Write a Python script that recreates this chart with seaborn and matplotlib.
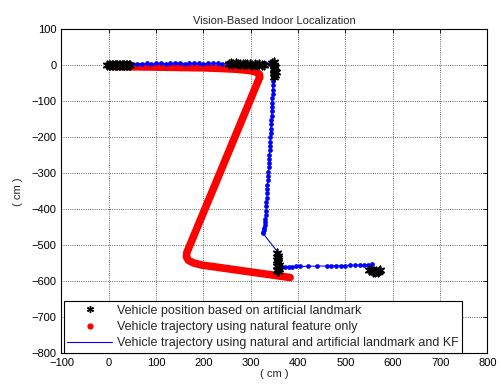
import matplotlib
matplotlib.use("Agg")
import matplotlib.pyplot as plt
import seaborn as sns
from matplotlib.lines import Line2D

# Landmark-based vehicle positions (cm)
landmark_x = [-3, 0, 3, 6, 9, 12, 15, 18, 21, 24, 27, 30, 33, 36, 39, 42, 45,
              253, 258, 263, 268, 273, 278, 283, 288, 293, 298, 303, 308, 313, 318, 323, 328,
              345, 348, 350, 352, 348, 350, 353, 349, 351, 350,
              355, 357, 358, 356, 357, 359, 355, 358, 360, 356, 358,
              550, 555, 560, 565, 570, 573, 558, 563, 568]
landmark_y = [0, 1, 0, 1, 0, 1, 0, 1, 0, 1, 0, 1, 0, 1, 0, 1, 0,
              4, 5, 4, 5, 4, 4, 3, 4, 3, 3, 2, 3, 2, 3, 2, 2,
              6, 8, 2, -4, -10, -14, -18, -22, -26, -32,
              -522, -530, -536, -542, -548, -554, -558, -562, -566, -569, -572,
              -569, -570, -572, -571, -572, -570, -575, -576, -574]

# Trajectory from natural features only (cm)
natural_x = [0, 50, 100, 150, 200, 240, 270, 295, 310, 318, 319, 316, 165, 164, 168, 178, 195, 383]
natural_y = [-3, -4, -5, -6, -7, -9, -11, -14, -18, -25, -33, -42, -520, -532, -542, -549, -555, -590]

# Trajectory using natural + artificial landmark and KF (cm)
kf_x = [0, 10, 20, 30, 40, 50, 60, 70, 80, 90, 100, 110, 120, 130, 140, 150, 160, 170, 180, 190,
        200, 210, 220, 230, 240, 250, 260, 270, 280, 290, 300, 310, 320, 330, 340,
        347, 347, 347, 346, 346, 346, 345, 345, 344, 344, 344, 343, 343, 342, 342, 341, 341,
        340, 340, 339, 339, 338, 338, 337, 337, 336, 335, 335, 334, 334, 333, 333, 332, 332,
        331, 330, 329, 328, 327, 326, 325,
        358, 357, 356, 365, 372, 380, 388, 396, 404, 420, 440, 460, 470, 480, 490, 500,
        510, 520, 530, 540, 548, 556, 560]
kf_y = [4, 5, 3, 4, 5, 4, 3, 4, 5, 4, 5, 6, 4, 5, 6, 7, 4, 5, 6, 5,
        4, 5, 6, 5, 4, 5, 4, 5, 4, 5, 4, 5, 4, 5, 4,
        -20, -32, -44, -56, -68, -80, -92, -104, -116, -128, -140, -152, -164, -176, -188, -200, -212,
        -224, -236, -248, -260, -272, -284, -296, -308, -320, -332, -344, -356, -368, -380, -392, -404, -416,
        -426, -436, -445, -452, -458, -463, -466,
        -521, -545, -560, -560, -560, -560, -560, -559, -559, -559, -558, -558, -558, -557, -557, -557,
        -556, -556, -555, -555, -554, -553, -570]

x_ticks = [-100, 0, 100, 200, 300, 400, 500, 600, 700, 800]
y_ticks = [100, 0, -100, -200, -300, -400, -500, -600, -700, -800]

sns.set_style("white")
plt.rcParams['font.family'] = ['Liberation Sans', 'DejaVu Sans']

fig = plt.figure(figsize=(5.02, 3.91), dpi=100)
ax = fig.add_axes([0.1225, 0.097, 0.8485, 0.828])

sns.lineplot(x=natural_x, y=natural_y, sort=False, estimator=None, color='#ff0000',
             lw=5.5, solid_capstyle='round', solid_joinstyle='round', ax=ax, zorder=2)
sns.lineplot(x=kf_x, y=kf_y, sort=False, estimator=None, color='#0000ff', lw=0.8,
             marker='o', markersize=3.4, markeredgewidth=0, ax=ax, zorder=3)
sns.scatterplot(x=landmark_x, y=landmark_y, marker=(6, 2, 0), color='k', s=35,
                linewidth=1.2, ax=ax, zorder=4)

ax.set_xlim(-100, 800)
ax.set_ylim(-800, 100)
ax.set_xticks(x_ticks)
ax.set_yticks(y_ticks)
ax.tick_params(direction='in', top=True, right=True, labelsize=8, length=3, width=0.6, colors='k')
for s in ax.spines.values():
    s.set_color('k')
    s.set_linewidth(0.8)
ax.grid(True, color='#333333', linestyle=':', linewidth=0.6)
ax.set_axisbelow(True)
ax.set_title('Vision-Based Indoor Localization', fontsize=8, pad=4)
ax.set_xlabel('( cm )', fontsize=8, labelpad=1)
ax.set_ylabel('( cm )', fontsize=8, labelpad=6)

handles = [
    Line2D([], [], color='k', marker=(6, 2, 0), linestyle='none', markersize=5, markeredgewidth=1),
    Line2D([], [], color='#ff0000', marker='o', linestyle='none', markersize=3.5),
    Line2D([], [], color='#0000ff', lw=0.8),
]
labels = ['Vehicle position based on artificial landmark',
          'Vehicle trajectory using natural feature only',
          'Vehicle trajectory using natural and artificial landmark and KF']
leg = ax.legend(handles, labels, loc='lower left', bbox_to_anchor=(0.005, 0.0),
                fontsize=9, frameon=True, fancybox=False, edgecolor='k', framealpha=1,
                borderpad=0.3, labelspacing=0.35, handlelength=3.6, handletextpad=0.35,
                borderaxespad=0.0)
leg.get_frame().set_linewidth(0.8)

fig.savefig('out.png', dpi=100, facecolor='white')
